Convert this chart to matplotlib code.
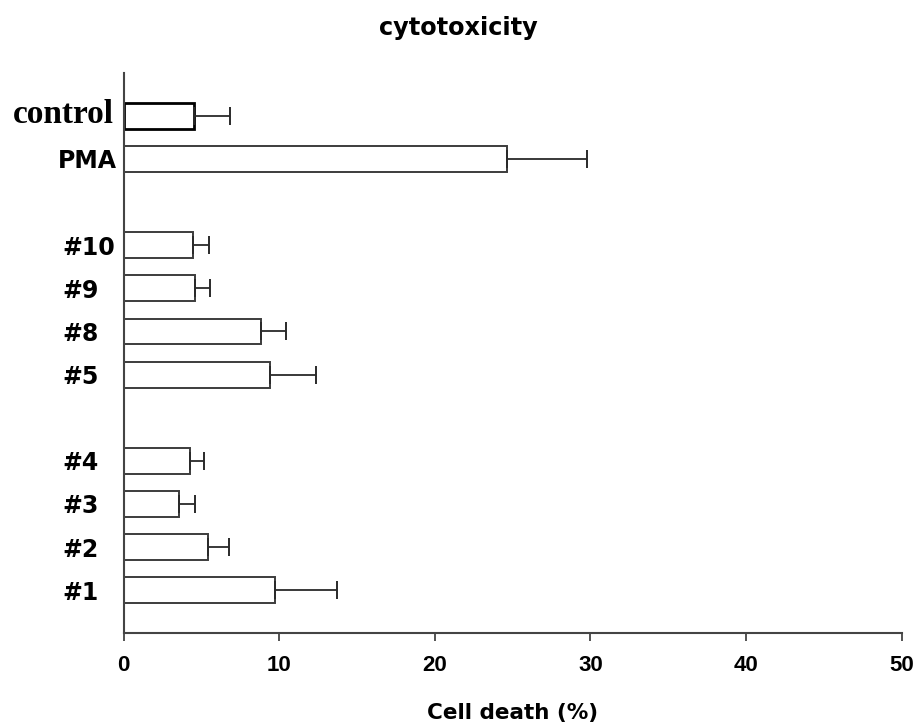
import matplotlib
matplotlib.use("Agg")
import matplotlib.pyplot as plt
import numpy as np

# groups listed bottom to top, one empty row between groups
groups = [["#1", "#2", "#3", "#4"],
          ["#5", "#8", "#9", "#10"],
          ["PMA", "control"]]
cell_death = {"#1": 9.73, "#2": 5.42, "#3": 3.56, "#4": 4.24,
              "#5": 9.39, "#8": 8.81, "#9": 4.57, "#10": 4.48,
              "PMA": 24.65, "control": 4.52}
sem = {"#1": 4.0, "#2": 1.35, "#3": 1.0, "#4": 0.9,
       "#5": 2.95, "#8": 1.65, "#9": 1.0, "#10": 1.0,
       "PMA": 5.15, "control": 2.34}
x_ticks = [0, 10, 20, 30, 40, 50]

EDGE = "#3c3c3c"

labels, pos = [], []
row = 0
for g in groups:
    for name in g:
        labels.append(name); pos.append(row); row += 1
    row += 1
pos = np.asarray(pos, float)
vals = np.array([cell_death[n] for n in labels])
errs = np.array([sem[n] for n in labels])

fig = plt.figure(figsize=(9.17, 7.28), dpi=100)
ax = fig.add_axes([0.1349, 0.1301, 0.8482, 0.7700])

for name, y, v in zip(labels, pos, vals):
    ctrl = name == "control"
    ax.barh(y, v, height=0.6, color="white",
            edgecolor="black" if ctrl else EDGE, linewidth=2.0 if ctrl else 1.4, zorder=2)
ax.errorbar(vals, pos, xerr=[np.zeros_like(errs), errs], fmt="none",
            ecolor="#2a2a2a", elinewidth=1.3, capsize=6.5, capthick=1.4, zorder=3)

ax.set_xlim(0, 50); ax.set_ylim(-1, 12)
ax.set_xticks(x_ticks)
ax.set_xticklabels([str(t) for t in x_ticks], family="Liberation Sans",
                   fontweight="bold", fontsize=16)
ax.set_yticks([])
for side in ("top", "right"):
    ax.spines[side].set_visible(False)
for side in ("left", "bottom"):
    ax.spines[side].set_color("#444444"); ax.spines[side].set_linewidth(1.5)
ax.tick_params(axis="x", direction="out", length=5.8, width=1.3, color="#444444", pad=10)

ytrans = ax.get_yaxis_transform()
for name, y in zip(labels, pos):
    if name == "control":
        ax.annotate(name, (0, y), xycoords=ytrans, xytext=(-6.8, 3.5), textcoords="offset points",
                    ha="right", va="center_baseline", family="Liberation Serif",
                    fontweight="bold", fontsize=24)
    elif name == "PMA":
        ax.annotate(name, (0, y), xycoords=ytrans, xytext=(-4.6, 0), textcoords="offset points",
                    ha="right", va="center_baseline", fontweight="bold", fontsize=17)
    else:
        ax.annotate(name, (0, y), xycoords=ytrans, xytext=(-44, 0), textcoords="offset points",
                    ha="left", va="center_baseline", fontweight="bold", fontsize=17)

ax.set_xlabel("Cell death (%)", fontsize=15.5, fontweight="bold", labelpad=19)
fig.text(0.5, 1 - 35 / 728, "cytotoxicity", ha="center", va="baseline",
         fontsize=17.3, fontweight="bold")

fig.savefig("out.png", dpi=100, facecolor="white")
